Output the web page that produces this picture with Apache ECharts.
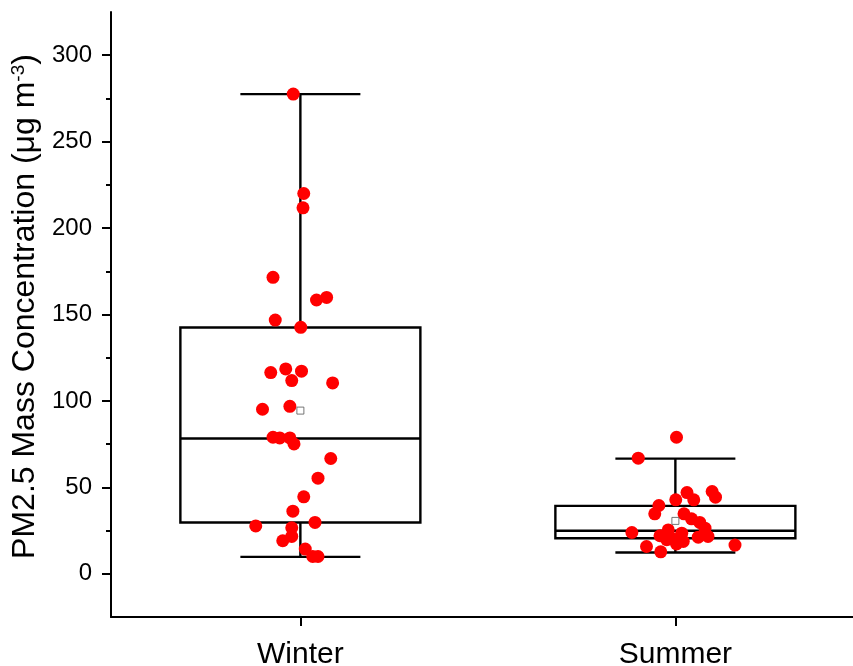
<!DOCTYPE html>
<html>
<head>
<meta charset="utf-8">
<script src="https://cdn.jsdelivr.net/npm/echarts@6/dist/echarts.min.js"></script>
<style>
  html, body { margin: 0; padding: 0; background: #fff; }
  #chart { width: 853px; height: 666px; }
</style>
</head>
<body>
<div id="chart"></div>
<script>
// ---- data ----
const categories = ['Winter', 'Summer'];
const yTicks = [0, 50, 100, 150, 200, 250, 300];
const yMinorTicks = [25, 75, 125, 175, 225, 275];

// box statistics per category: min whisker, Q1, median, Q3, max whisker, mean
const boxMin    = [9.8, 12.3];
const boxQ1     = [29.7, 20.6];
const boxMedian = [78.3, 24.9];
const boxQ3     = [142.5, 39.3];
const boxMax    = [277.5, 66.6];
const boxMean   = [94.4, 30.6];

// individual samples (value) with horizontal jitter (category units)
const winterValues = [277.5, 220.0, 211.7, 171.5, 159.9, 158.4, 146.8, 142.6, 116.4, 118.5,
                      117.2, 111.8, 110.4, 95.2, 96.9, 79.0, 78.6, 78.6, 75.1, 66.7,
                      55.3, 44.5, 36.2, 27.7, 29.7, 26.6, 21.6, 19.1, 14.3, 10.0, 10.0];
const winterJitter = [-0.019, 0.009, 0.007, -0.073, 0.070, 0.043, -0.067, 0.001, -0.079, -0.039,
                      0.003, -0.023, 0.086, -0.101, -0.028, -0.073, -0.055, -0.028, -0.017, 0.081,
                      0.047, 0.009, -0.020, -0.119, 0.039, -0.023, -0.023, -0.047, 0.013, 0.033, 0.047];
const summerValues = [79.0, 66.9, 47.6, 44.3, 47.0, 42.8, 42.8, 39.5, 34.7, 34.7,
                      31.8, 29.7, 26.4, 25.4, 22.0, 23.9, 23.5, 20.6, 18.7, 21.2,
                      21.6, 17.3, 15.8, 12.7, 16.6, 19.7];
const summerJitter = [0.003, -0.099, 0.098, 0.107, 0.031, 0.049, 0.001, -0.044, -0.055, 0.023,
                      0.043, 0.065, 0.079, -0.019, -0.041, -0.116, 0.017, -0.010, 0.021, 0.061,
                      0.087, 0.003, -0.077, -0.039, 0.159, -0.023];

// ---- build ----
const boxData = categories.map((c, i) => [i + 1, boxMin[i], boxQ1[i], boxMedian[i], boxQ3[i], boxMax[i]]);
const pointData = []
  .concat(winterValues.map((v, i) => [1 + winterJitter[i], v]))
  .concat(summerValues.map((v, i) => [2 + summerJitter[i], v]));
const meanData = boxMean.map((m, i) => [i + 1, m]);

const FONT = 'Liberation Sans, Arial, Helvetica, sans-serif';
const HALF_BOX = 0.32, HALF_CAP = 0.16;
const LW = 2.4;

function renderBox(params, api) {
  const x = api.value(0);
  const mn = api.value(1), q1 = api.value(2), md = api.value(3), q3 = api.value(4), mx = api.value(5);
  const c = (xx, yy) => api.coord([xx, yy]);
  const st = { stroke: '#000', lineWidth: LW, fill: null };
  const tl = c(x - HALF_BOX, q3), br = c(x + HALF_BOX, q1);
  const line = (a, b) => ({ type: 'line', shape: { x1: a[0], y1: a[1], x2: b[0], y2: b[1] }, style: st });
  return {
    type: 'group',
    children: [
      line(c(x, q3), c(x, mx)),
      line(c(x, mn), c(x, q1)),
      line(c(x - HALF_CAP, mx), c(x + HALF_CAP, mx)),
      line(c(x - HALF_CAP, mn), c(x + HALF_CAP, mn)),
      { type: 'rect', shape: { x: tl[0], y: tl[1], width: br[0] - tl[0], height: br[1] - tl[1] },
        style: { stroke: '#000', lineWidth: LW, fill: 'rgba(0,0,0,0)' } },
      line(c(x - HALF_BOX, md), c(x + HALF_BOX, md))
    ]
  };
}

const chart = echarts.init(document.getElementById('chart'), null, { renderer: 'canvas' });
chart.setOption({
  animation: false,
  backgroundColor: '#fff',
  grid: { left: 111, top: 12, width: 750, height: 605, containLabel: false, outerBoundsMode: 'none' },
  xAxis: {
    type: 'value', min: 0.495, max: 2.495,
    splitLine: { show: false },
    axisLine: { show: true, onZero: false, lineStyle: { color: '#000', width: 2 } },
    axisTick: { show: true, customValues: [1, 2], length: 9, lineStyle: { color: '#000', width: 2 } },
    axisLabel: {
      customValues: [1, 2], margin: 23, fontSize: 30, color: '#000', fontFamily: FONT,
      formatter: v => categories[Math.round(v) - 1]
    }
  },
  yAxis: [{
    type: 'value', min: -25, max: 325, position: 'left',
    splitLine: { show: false },
    axisLine: { show: true, onZero: false, lineStyle: { color: '#000', width: 2 } },
    axisTick: { show: true, customValues: yTicks, length: 9, lineStyle: { color: '#000', width: 2 } },
    axisLabel: { customValues: yTicks, margin: 19, fontSize: 24, color: '#000', fontFamily: FONT },
    name: '{a|PM2.5 Mass Concentration (μg m}{s|-3}{a|)}',
    nameLocation: 'middle', nameRotate: 90, nameGap: 62,
    nameTextStyle: {
      color: '#000', fontFamily: FONT,
      padding: [0, 0, 0, 16],
      rich: {
        a: { fontSize: 32, color: '#000', fontFamily: FONT },
        s: { fontSize: 19, color: '#000', fontFamily: FONT, verticalAlign: 'top' }
      }
    }
  }, {
    type: 'value', min: -25, max: 325, position: 'left', offset: 0,
    splitLine: { show: false },
    axisLine: { show: false },
    axisTick: { show: true, customValues: yMinorTicks, length: 5, lineStyle: { color: '#000', width: 2 } },
    axisLabel: { show: false }
  }],
  series: [{
    type: 'custom',
    renderItem: renderBox,
    encode: { x: 0, y: [1, 2, 3, 4, 5] },
    data: boxData,
    z: 1
  }, {
    type: 'scatter',
    data: pointData,
    symbol: 'circle',
    symbolSize: 13,
    itemStyle: { color: '#ff0000', opacity: 1 },
    z: 2
  }, {
    type: 'scatter',
    data: meanData,
    symbol: 'rect',
    symbolSize: 7,
    itemStyle: { color: '#ffffff', borderColor: '#555', borderWidth: 1 },
    z: 3
  }]
});
</script>
</body>
</html>
